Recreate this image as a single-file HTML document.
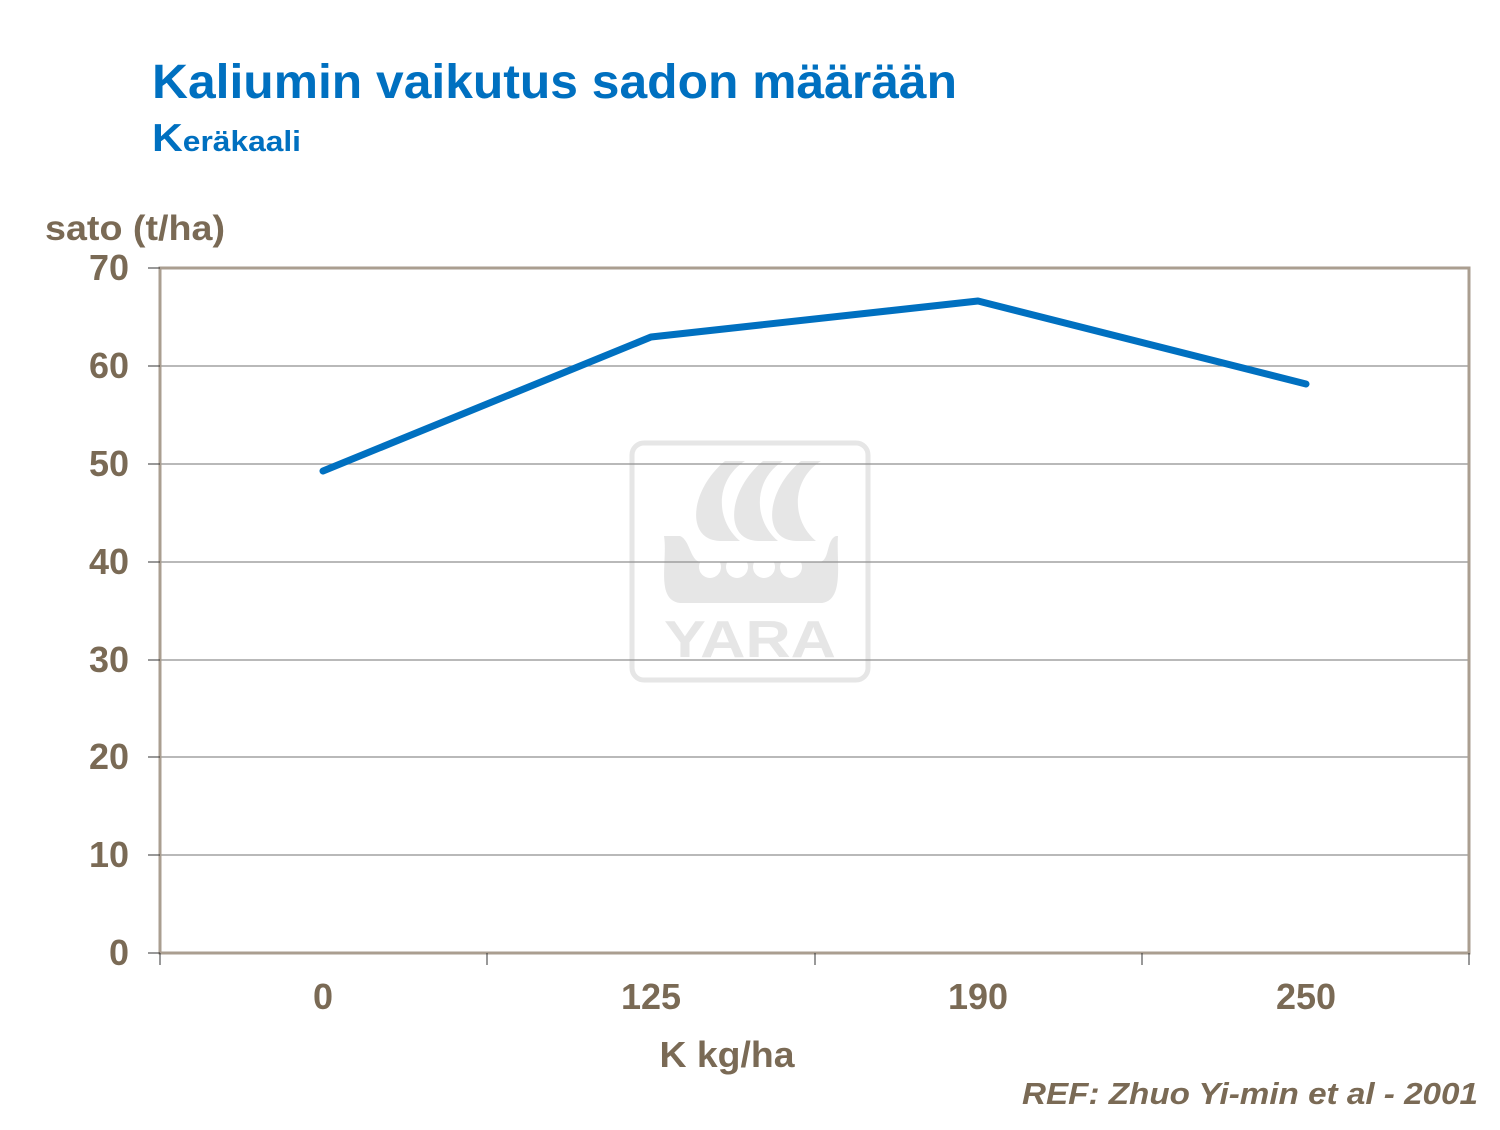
<!DOCTYPE html>
<html><head><meta charset="utf-8"><style>
body{margin:0;background:#fff;}
</style></head><body>
<svg width="1500" height="1125" viewBox="0 0 1500 1125" xmlns="http://www.w3.org/2000/svg" font-family="Liberation Sans, sans-serif" font-weight="bold">
<text x="152" y="98" font-size="48" fill="#0070c0" textLength="805" lengthAdjust="spacingAndGlyphs">Kaliumin vaikutus sadon määrään</text>
<text x="152" y="151" fill="#0070c0" textLength="149" lengthAdjust="spacingAndGlyphs"><tspan font-size="39">K</tspan><tspan font-size="29">eräkaali</tspan></text>
<text x="45" y="240" font-size="35" fill="#7a6a55" textLength="180" lengthAdjust="spacingAndGlyphs">sato (t/ha)</text>
<!-- watermark -->
<g fill="#e6e6e6">
<rect x="632" y="443" width="236" height="237" rx="12" fill="none" stroke="#e6e6e6" stroke-width="5"/>
<path d="M725 461 C690 490 685 540 720 541 L740 541 C715 520 715 480 745 461Z"/>
<path d="M763 461 C728 490 723 540 758 541 L778 541 C753 520 753 480 783 461Z"/>
<path d="M801 461 C766 490 761 540 796 541 L816 541 C791 520 791 480 821 461Z"/>
<path d="M664 536 L680 536 C690 540 690 560 700 562 L820 562 C830 560 826 540 836 536 L838 536 C836 560 845 600 822 603 L680 603 C655 600 668 560 664 536Z"/>
<text x="750" y="657" font-size="52" text-anchor="middle" textLength="172" lengthAdjust="spacingAndGlyphs">YARA</text>
</g>
<g fill="#fff"><circle cx="710" cy="567" r="11"/><circle cx="737" cy="567" r="11"/><circle cx="764" cy="567" r="11"/><circle cx="791" cy="567" r="11"/></g>
<g stroke="#8f8f8f" stroke-width="1.3">
<line x1="160" y1="855" x2="1469" y2="855"/><line x1="160" y1="757" x2="1469" y2="757"/>
<line x1="160" y1="660" x2="1469" y2="660"/><line x1="160" y1="562" x2="1469" y2="562"/>
<line x1="160" y1="464" x2="1469" y2="464"/><line x1="160" y1="366" x2="1469" y2="366"/>
</g>
<rect x="160" y="268" width="1309" height="685" fill="none" stroke="#aa9e90" stroke-width="3"/>
<g stroke="#333" stroke-width="1">
<line x1="148" y1="268" x2="160" y2="268"/><line x1="148" y1="366" x2="160" y2="366"/><line x1="148" y1="464" x2="160" y2="464"/><line x1="148" y1="562" x2="160" y2="562"/><line x1="148" y1="660" x2="160" y2="660"/><line x1="148" y1="757" x2="160" y2="757"/><line x1="148" y1="855" x2="160" y2="855"/><line x1="148" y1="953" x2="160" y2="953"/>
<line x1="160" y1="953" x2="160" y2="965"/><line x1="487" y1="953" x2="487" y2="965"/><line x1="815" y1="953" x2="815" y2="965"/><line x1="1142" y1="953" x2="1142" y2="965"/><line x1="1469" y1="953" x2="1469" y2="965"/>
</g>
<g font-size="36" fill="#7a6a55" text-anchor="end">
<text x="129" y="280">70</text><text x="129" y="378">60</text><text x="129" y="476">50</text><text x="129" y="574">40</text><text x="129" y="672">30</text><text x="129" y="769">20</text><text x="129" y="867">10</text><text x="129" y="965">0</text>
</g>
<g font-size="36" fill="#7a6a55" text-anchor="middle">
<text x="323" y="1009">0</text><text x="651" y="1009">125</text><text x="978" y="1009">190</text><text x="1306" y="1009">250</text>
<text x="727" y="1067" textLength="135" lengthAdjust="spacingAndGlyphs">K kg/ha</text>
</g>
<polyline points="323,471 651,337 978,301 1306,384" fill="none" stroke="#0070c0" stroke-width="7" stroke-linejoin="round" stroke-linecap="round"/>
<text x="1022" y="1104" font-size="31" font-style="italic" fill="#7a6a55" textLength="456" lengthAdjust="spacingAndGlyphs">REF: Zhuo Yi-min et al - 2001</text>
</svg>
</body></html>
